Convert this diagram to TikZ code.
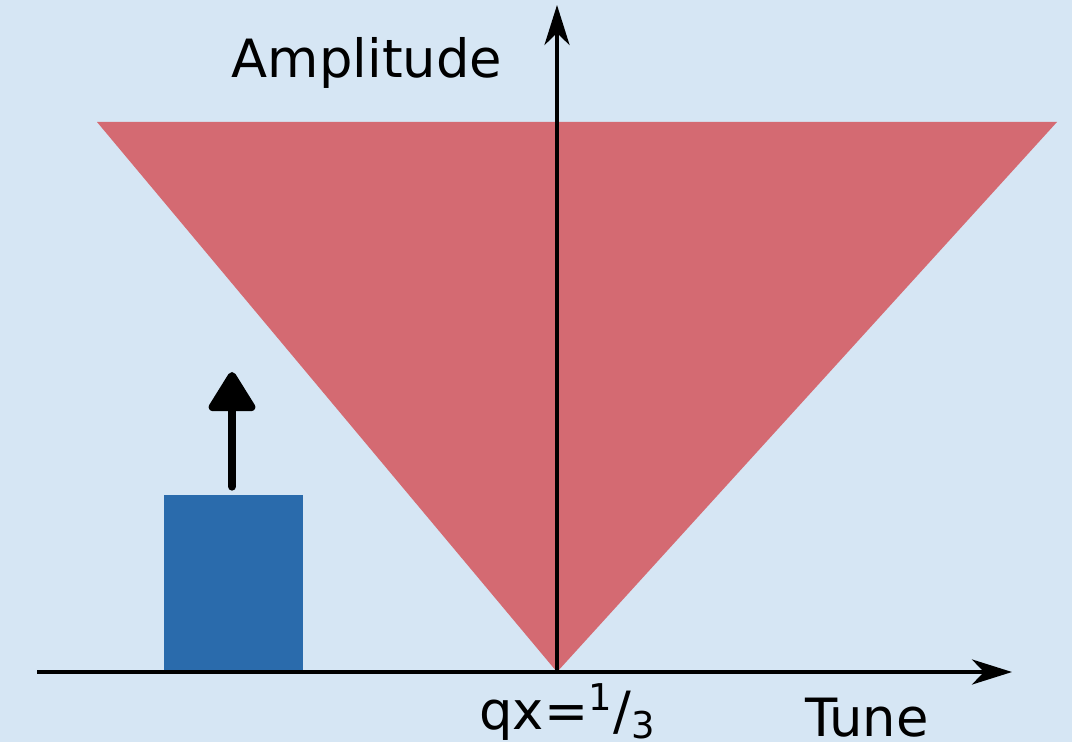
\documentclass[tikz,border=0pt]{standalone}
\usepackage{fontspec}
\setmainfont{DejaVu Sans}
\usetikzlibrary{arrows.meta,positioning,calc}
\definecolor{bgblue}{HTML}{D6E6F4}
\definecolor{zonered}{HTML}{D46A72}
\definecolor{barblue}{HTML}{2A6BAC}
\tikzset{
  axis/.style={line width=1.2pt, -{Stealth[length=4mm, width=2.5mm, inset=1.2mm]}},
  label/.style={font=\fontsize{15}{18}\selectfont, inner sep=0pt},
  bar/.style={fill=barblue, minimum width=13.9mm, minimum height=17.6mm, inner sep=0pt},
  push/.style={line width=2.3pt, line cap=round, -{Triangle[length=4.3mm, width=5.1mm, round]}},
}

\begin{document}
\begin{tikzpicture}
  \useasboundingbox[fill=bgblue] (0,0) rectangle (10.72,7.42);

  % resonance zone
  \coordinate (res) at (5.57,0.70);
  \coordinate (zl) at (0.97,6.20);
  \coordinate (zr) at (10.57,6.20);
  \fill[zonered] (zl) -- (zr) -- (res) -- cycle;

  % beam and kick
  \node[bar, anchor=south] (beam) at (2.335,0.70) {};
  \coordinate (kick) at (2.32,3.70);
  \draw[push] ($(beam.north)+(-0.015,0.08)$) -- (kick);

  % axes
  \coordinate (xstart) at (0.37,0.70);
  \coordinate (xend) at (10.12,0.70);
  \coordinate (yend) at (5.57,7.37);
  \draw[axis] (xstart) -- (xend);
  \draw[axis] (res) -- (yend);

  \node[label, anchor=base] (amp) at (3.67,6.64) {Amplitude};
  \node[label, anchor=base] (tune) at (8.67,0.06) {Tune};
  \node[label, anchor=base] (qx) at (5.68,0.13) {qx=\textsuperscript{1}/\textsubscript{3}};
\end{tikzpicture}
\end{document}
